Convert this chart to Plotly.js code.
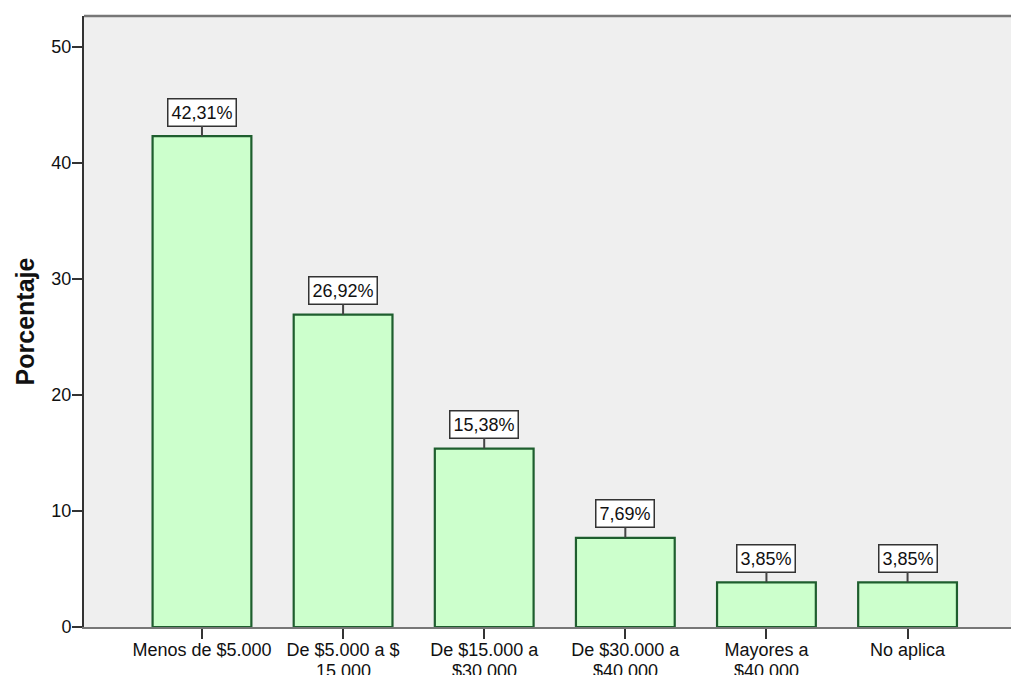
<!DOCTYPE html>
<html>
<head>
<meta charset="utf-8">
<script src="https://cdn.plot.ly/plotly-3.0.1.min.js"></script>
<style>html,body{margin:0;padding:0;background:#fff;}#chart{width:1011px;height:675px;}</style>
</head>
<body>
<div id="chart"></div>
<script>
const categories = ["Menos de $5.000", "De $5.000 a $ 15.000", "De $15.000 a $30.000", "De $30.000 a $40.000", "Mayores a $40.000", "No aplica"];
const tickLine1 = ["Menos de $5.000", "De $5.000 a $", "De $15.000 a", "De $30.000 a", "Mayores a", "No aplica"];
const tickLine2 = ["", "15.000", "$30.000", "$40.000", "$40.000", ""];
const values = [42.31, 26.92, 15.38, 7.69, 3.85, 3.85];
const labels = values.map(v => v.toFixed(2).replace('.', ',') + '%');
const yTicks = [0, 10, 20, 30, 40, 50];

const FONT = 'Liberation Sans, Arial, sans-serif';

const trace = {
  type: 'bar',
  x: categories,
  y: values,
  width: 0.70,
  marker: {color: '#CCFFCC', line: {color: '#1E5E2E', width: 2.2}},
  hoverinfo: 'skip'
};

const valueAnnotations = categories.map((c, i) => ({
  x: c, y: values[i], xref: 'x', yref: 'y',
  text: labels[i],
  showarrow: true, arrowhead: 0, arrowwidth: 2, arrowcolor: '#444',
  ax: 0, ay: -24, standoff: 0, startstandoff: 0,
  bgcolor: '#FFFFFF', bordercolor: '#333', borderwidth: 1.5, borderpad: 3,
  font: {family: FONT, size: 18, color: '#111'}
}));

const line2Annotations = categories.map((c, i) => ({
  x: c, y: 0, xref: 'x', yref: 'paper',
  text: tickLine2[i], showarrow: false,
  yanchor: 'top', yshift: -32,
  font: {family: FONT, size: 18, color: '#111'}
})).filter(a => a.text);

const layout = {
  width: 1011, height: 675,
  margin: {l: 84, r: 0, t: 16, b: 48},
  paper_bgcolor: '#FFFFFF',
  plot_bgcolor: '#EFEFEF',
  showlegend: false,
  font: {family: FONT, size: 18, color: '#111'},
  xaxis: {
    type: 'category',
    categoryarray: categories,
    tickvals: categories,
    ticktext: tickLine1,
    range: [-0.836, 5.733],
    showgrid: false, zeroline: false,
    showline: true, linecolor: '#777', linewidth: 2,
    ticks: 'outside', ticklen: 10, tickwidth: 2, tickcolor: '#333',
    tickfont: {family: FONT, size: 18, color: '#111'},
    ticklabelstandoff: -5,
    automargin: false
  },
  yaxis: {
    range: [0, 52.67],
    tickvals: yTicks,
    showgrid: false, zeroline: false,
    showline: true, linecolor: '#333', linewidth: 2,
    ticks: 'outside', ticklen: 10, tickwidth: 2, tickcolor: '#333',
    tickfont: {family: FONT, size: 18, color: '#111'},
    ticklabelstandoff: -3,
    title: {text: 'Porcentaje', font: {size: 25, color: '#111', family: FONT, weight: 'bold'}, standoff: 10},
    automargin: false
  },
  shapes: [{type: 'line', xref: 'paper', yref: 'paper', x0: 0, x1: 1, y0: 1, y1: 1, line: {color: '#777', width: 2.5}}],
  annotations: valueAnnotations.concat(line2Annotations)
};

Plotly.newPlot('chart', [trace], layout, {displayModeBar: false, staticPlot: true});
</script>
</body>
</html>
